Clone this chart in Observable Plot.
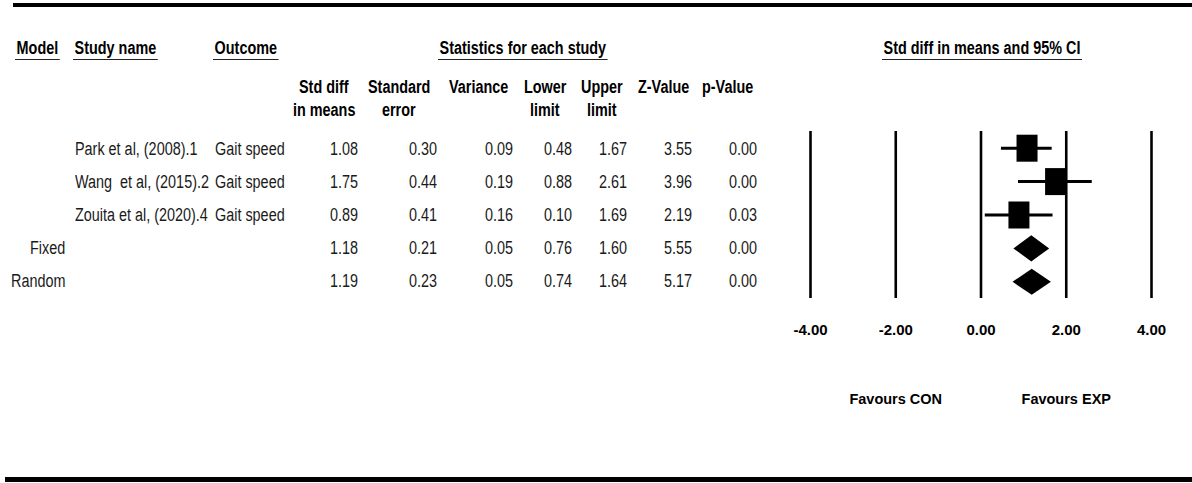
<!DOCTYPE html>
<html><head><meta charset="utf-8">
<script src="https://cdn.jsdelivr.net/npm/d3@7"></script>
<script src="https://cdn.jsdelivr.net/npm/@observablehq/plot@0.6"></script>
<style>
body{margin:0;background:#fff;}
#wrap{position:relative;width:1192px;height:483px;overflow:hidden;background:#fff;font-family:"Liberation Sans",Arial,sans-serif;color:#1a1a1a;}
.t{position:absolute;white-space:pre;line-height:20px;font-size:18px;transform:scaleX(0.8);transform-origin:0 0;}
.b{font-weight:bold;color:#000;}
.rule{position:absolute;background:#000;}
.ul{border-bottom:1.6px solid #222;padding:0 2px 1px 2px;}
#plot{position:absolute;left:770px;top:99px;}
</style></head><body><div id="wrap"></div>
<script>
// ---- data ----
const models   = ["", "", "", "Fixed", "Random"];
const studies  = ["Park et al, (2008).1", "Wang  et al, (2015).2", "Zouita et al, (2020).4", "", ""];
const outcomes = ["Gait speed", "Gait speed", "Gait speed", "", ""];
const stdDiff  = [1.08, 1.75, 0.89, 1.18, 1.19];
const stdErr   = [0.30, 0.44, 0.41, 0.21, 0.23];
const variance = [0.09, 0.19, 0.16, 0.05, 0.05];
const lower    = [0.48, 0.88, 0.10, 0.76, 0.74];
const upper    = [1.67, 2.61, 1.69, 1.60, 1.64];
const zValue   = [3.55, 3.96, 2.19, 5.55, 5.17];
const pValue   = [0.00, 0.00, 0.03, 0.00, 0.00];
const kinds    = ["study", "study", "study", "summary", "summary"];
const xTicks   = [-4, -2, 0, 2, 4];
const favours  = ["Favours CON", "Favours EXP"];
const favoursAt = [-2, 2];
const groupHeaders = ["Model", "Study name", "Outcome", "Statistics for each study", "Std diff in means and 95% CI"];
const colHeaders = [["Std diff", "in means"], ["Standard", "error"], ["Variance", ""], ["Lower", "limit"], ["Upper", "limit"], ["Z-Value", ""], ["p-Value", ""]];

// ---- layout (table) ----
const wrap = document.getElementById("wrap");
function addText(txt, opts) {
  const d = document.createElement("div");
  d.className = "t" + (opts.bold ? " b" : "") + (opts.ul ? " ul" : "");
  d.textContent = txt;
  d.style.top = (opts.cy - 10) + "px";
  d.style.left = "0px";
  wrap.appendChild(d);
  const w = d.getBoundingClientRect().width; // includes scaleX
  let left;
  if (opts.align === "right") left = opts.x - w;
  else if (opts.align === "center") left = opts.x - w / 2;
  else left = opts.x;
  d.style.left = left + "px";
  return d;
}
function addRule(x, y, w, h) {
  const d = document.createElement("div");
  d.className = "rule";
  Object.assign(d.style, {left: x + "px", top: y + "px", width: w + "px", height: h + "px"});
  wrap.appendChild(d);
}
addRule(13, 3, 1179, 4);
addRule(5, 477, 1187, 5);

const groupPos = [{x: 15, align: "left"}, {x: 73, align: "left"}, {x: 213, align: "left"}, {x: 523, align: "center"}, {x: 982, align: "center"}];
groupHeaders.forEach((h, i) => addText(h, {x: groupPos[i].x, align: groupPos[i].align, cy: 48, bold: true, ul: true}));

const colCenters = [324, 399, 479, 545, 602, 664, 728];
colHeaders.forEach((h, i) => {
  h.forEach((line, j) => { if (line) addText(line, {x: colCenters[i], align: "center", cy: j === 0 ? 87 : 110, bold: true}); });
});

const rowY = i => 149 + i * 33;
const numCols = [[stdDiff, 358], [stdErr, 437], [variance, 513], [lower, 572], [upper, 627], [zValue, 692], [pValue, 757]];
stdDiff.forEach((_, i) => {
  if (models[i]) addText(models[i], {x: 65, align: "right", cy: rowY(i)});
  if (studies[i]) addText(studies[i], {x: 75, align: "left", cy: rowY(i)});
  if (outcomes[i]) addText(outcomes[i], {x: 215, align: "left", cy: rowY(i)});
  numCols.forEach(([arr, right]) => addText(arr[i].toFixed(2), {x: right, align: "right", cy: rowY(i)}));
});

// ---- forest plot ----
const rows = stdDiff.map((d, i) => ({row: i + 1, est: d, lo: lower[i], hi: upper[i], kind: kinds[i]}));
const studyRows = rows.filter(r => r.kind === "study");
const sumRows = rows.filter(r => r.kind === "summary");
const halfH = 0.39;
const diamonds = sumRows.flatMap(r => [
  {id: r.row, x: r.lo, y: r.row},
  {id: r.row, x: r.est, y: r.row - halfH},
  {id: r.row, x: r.hi, y: r.row},
  {id: r.row, x: r.est, y: r.row + halfH},
  {id: r.row, x: r.lo, y: r.row}
]);
const boxSymbol = {draw(ctx) { const w = 10.5, h = 13.5; ctx.moveTo(-w, -h); ctx.lineTo(w, -h); ctx.lineTo(w, h); ctx.lineTo(-w, h); ctx.closePath(); }};

const chart = Plot.plot({
  width: 422, height: 321,
  marginLeft: 40, marginRight: 41, marginTop: 32, marginBottom: 122,
  style: {background: "transparent", color: "#000", fontFamily: "'Liberation Sans', Arial, sans-serif", fontWeight: "bold", fontSize: "15px", overflow: "visible"},
  x: {domain: [-4, 4], ticks: xTicks, tickSize: 0, tickPadding: 26, tickFormat: d => d.toFixed(2), label: null, line: false},
  y: {domain: [0.5, 5.5], reverse: true, axis: null},
  marks: [
    Plot.ruleX(xTicks, {stroke: "#000", strokeWidth: 2.6}),
    Plot.ruleY(studyRows, {y: "row", x1: "lo", x2: "hi", stroke: "#000", strokeWidth: 3}),
    Plot.dot(studyRows, {x: "est", y: "row", symbol: boxSymbol, fill: "#000", stroke: "none"}),
    Plot.line(diamonds, {x: "x", y: "y", z: "id", fill: "#000", stroke: "none"}),
    Plot.text(favours, {x: (d, i) => favoursAt[i], text: d => d, frameAnchor: "bottom", dy: 105, fontSize: 14.5, fontWeight: "bold", fill: "#000"})
  ]
});
chart.id = "plot";
wrap.appendChild(chart);
</script></body></html>
